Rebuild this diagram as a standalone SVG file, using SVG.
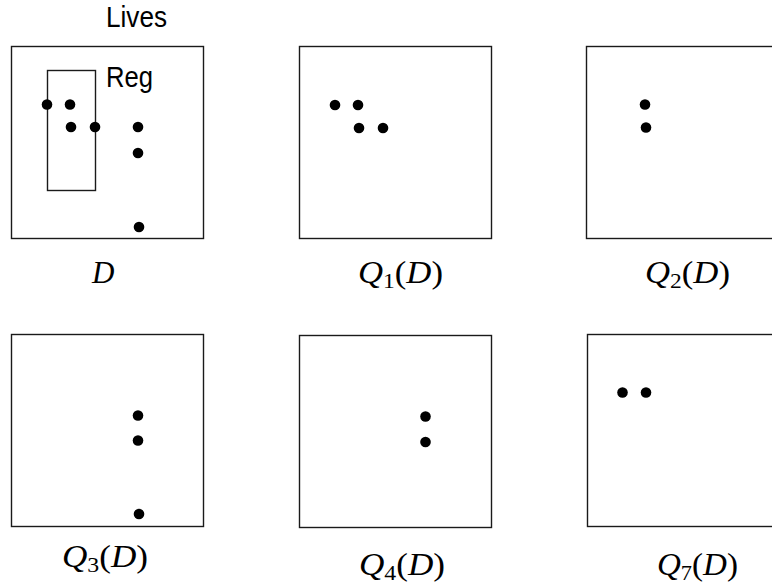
<svg xmlns="http://www.w3.org/2000/svg" width="772" height="587" viewBox="0 0 772 587">
<style>
.box{fill:none;stroke:#1a1a1a;stroke-width:1.4}
.dot{fill:#000}
.sans{font-family:"Liberation Sans","DejaVu Sans",sans-serif;font-size:29px;fill:#000}
.m{font-family:"Liberation Serif","DejaVu Serif",serif;font-size:31px;fill:#000}
.it{font-style:italic}
.sub{font-size:21px}
</style>
<rect width="772" height="587" fill="#fff"/>
<g id="panel-D">
<text class="sans" x="106" y="27" textLength="61" lengthAdjust="spacingAndGlyphs">Lives</text>
<rect class="box" x="11.5" y="46.5" width="192" height="192"/>
<rect class="box" x="47.5" y="70.5" width="48" height="120"/>
<text class="sans" x="106" y="87" textLength="47" lengthAdjust="spacingAndGlyphs">Reg</text>
<circle class="dot" cx="47" cy="104.5" r="5.3"/>
<circle class="dot" cx="70" cy="104.5" r="5.3"/>
<circle class="dot" cx="71" cy="127" r="5.3"/>
<circle class="dot" cx="95" cy="127" r="5.3"/>
<circle class="dot" cx="138" cy="127" r="5.3"/>
<circle class="dot" cx="138" cy="153" r="5.3"/>
<circle class="dot" cx="139" cy="227" r="5.3"/>
<text class="m it" x="92" y="283">D</text>
</g>
<g id="panel-Q1">
<rect class="box" x="299.5" y="46.5" width="192" height="192"/>
<circle class="dot" cx="335" cy="105" r="5.3"/>
<circle class="dot" cx="358" cy="105" r="5.3"/>
<circle class="dot" cx="359" cy="128" r="5.3"/>
<circle class="dot" cx="383" cy="128" r="5.3"/>
<text class="m" x="358" y="283" textLength="85" lengthAdjust="spacingAndGlyphs"><tspan class="it">Q</tspan><tspan class="sub" dy="5">1</tspan><tspan dy="-5">(</tspan><tspan class="it">D</tspan>)</text>
</g>
<g id="panel-Q2">
<rect class="box" x="586.5" y="46.5" width="192" height="192"/>
<circle class="dot" cx="645" cy="104.5" r="5.3"/>
<circle class="dot" cx="646" cy="127.5" r="5.3"/>
<text class="m" x="645" y="283" textLength="85" lengthAdjust="spacingAndGlyphs"><tspan class="it">Q</tspan><tspan class="sub" dy="5">2</tspan><tspan dy="-5">(</tspan><tspan class="it">D</tspan>)</text>
</g>
<g id="panel-Q3">
<rect class="box" x="11.5" y="334.5" width="192" height="192"/>
<circle class="dot" cx="138" cy="415.5" r="5.3"/>
<circle class="dot" cx="138" cy="440.5" r="5.3"/>
<circle class="dot" cx="139" cy="514" r="5.3"/>
<text class="m" x="62" y="567" textLength="86" lengthAdjust="spacingAndGlyphs"><tspan class="it">Q</tspan><tspan class="sub" dy="5">3</tspan><tspan dy="-5">(</tspan><tspan class="it">D</tspan>)</text>
</g>
<g id="panel-Q4">
<rect class="box" x="299.5" y="335.5" width="192" height="192"/>
<circle class="dot" cx="425.5" cy="416.5" r="5.3"/>
<circle class="dot" cx="425.5" cy="442" r="5.3"/>
<text class="m" x="359" y="575" textLength="86" lengthAdjust="spacingAndGlyphs"><tspan class="it">Q</tspan><tspan class="sub" dy="5">4</tspan><tspan dy="-5">(</tspan><tspan class="it">D</tspan>)</text>
</g>
<g id="panel-Q7">
<rect class="box" x="587.5" y="334.5" width="192" height="192"/>
<circle class="dot" cx="622.5" cy="392.5" r="5.3"/>
<circle class="dot" cx="646" cy="392.5" r="5.3"/>
<text class="m" x="657" y="575" textLength="81" lengthAdjust="spacingAndGlyphs"><tspan class="it">Q</tspan><tspan class="sub" dy="5">7</tspan><tspan dy="-5">(</tspan><tspan class="it">D</tspan>)</text>
</g>
</svg>
